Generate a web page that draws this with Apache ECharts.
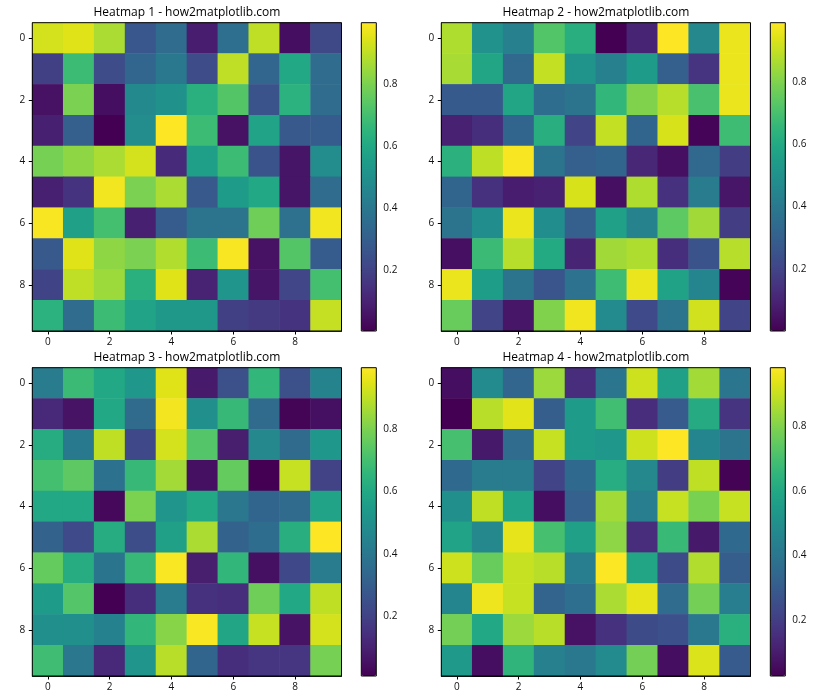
<!DOCTYPE html>
<html>
<head>
<meta charset="utf-8">
<script src="https://cdn.jsdelivr.net/npm/echarts@6/dist/echarts.min.js"></script>
<style>html,body{margin:0;padding:0;background:#fff}#c{width:840px;height:700px}</style>
</head>
<body>
<div id="c"></div>
<script>
const xCats = ['0','1','2','3','4','5','6','7','8','9'];
const yCats = ['0','1','2','3','4','5','6','7','8','9'];
const titles = ['Heatmap 1 - how2matplotlib.com','Heatmap 2 - how2matplotlib.com','Heatmap 3 - how2matplotlib.com','Heatmap 4 - how2matplotlib.com'];
const cbTicks = [0.2, 0.4, 0.6, 0.8];
const cbMin = [0.003, 0.001, 0.010, 0.026];
const cbMax = [0.998, 0.989, 0.996, 0.983];

const heat1 = [
  [0.93,0.95,0.87,0.27,0.35,0.08,0.36,0.90,0.04,0.22],
  [0.19,0.68,0.23,0.33,0.40,0.23,0.90,0.33,0.60,0.35],
  [0.05,0.80,0.04,0.47,0.50,0.63,0.73,0.26,0.64,0.35],
  [0.09,0.30,0.003,0.48,0.998,0.68,0.05,0.58,0.28,0.29],
  [0.79,0.83,0.87,0.93,0.12,0.56,0.68,0.26,0.06,0.48],
  [0.09,0.15,0.98,0.80,0.87,0.28,0.55,0.60,0.06,0.35],
  [0.99,0.57,0.70,0.09,0.29,0.38,0.38,0.78,0.37,0.98],
  [0.28,0.95,0.83,0.80,0.88,0.68,0.99,0.05,0.73,0.29],
  [0.20,0.90,0.85,0.63,0.95,0.10,0.52,0.06,0.21,0.70],
  [0.64,0.35,0.68,0.58,0.53,0.53,0.19,0.17,0.15,0.91]
];
const heat2 = [
  [0.87,0.50,0.43,0.72,0.62,0.001,0.10,0.989,0.46,0.96],
  [0.86,0.58,0.33,0.90,0.51,0.43,0.54,0.30,0.15,0.96],
  [0.28,0.28,0.58,0.35,0.38,0.65,0.80,0.88,0.70,0.96],
  [0.09,0.13,0.32,0.62,0.20,0.90,0.32,0.93,0.01,0.68],
  [0.63,0.89,0.98,0.38,0.30,0.32,0.11,0.04,0.33,0.18],
  [0.32,0.14,0.08,0.09,0.93,0.04,0.87,0.14,0.41,0.06],
  [0.38,0.48,0.96,0.48,0.30,0.56,0.44,0.74,0.85,0.18],
  [0.04,0.67,0.88,0.60,0.10,0.85,0.87,0.13,0.25,0.88],
  [0.96,0.55,0.38,0.26,0.37,0.68,0.96,0.57,0.45,0.01],
  [0.76,0.20,0.06,0.80,0.97,0.47,0.22,0.38,0.92,0.20]
];
const heat3 = [
  [0.42,0.68,0.60,0.53,0.95,0.08,0.25,0.66,0.25,0.45],
  [0.12,0.06,0.60,0.35,0.98,0.50,0.67,0.35,0.02,0.05],
  [0.62,0.41,0.90,0.22,0.93,0.73,0.09,0.47,0.35,0.53],
  [0.70,0.75,0.38,0.67,0.86,0.05,0.76,0.010,0.91,0.20],
  [0.60,0.60,0.03,0.80,0.52,0.60,0.40,0.33,0.35,0.58],
  [0.32,0.23,0.62,0.24,0.57,0.87,0.32,0.36,0.63,0.996],
  [0.76,0.62,0.39,0.67,0.99,0.09,0.66,0.05,0.22,0.42],
  [0.55,0.73,0.01,0.14,0.42,0.15,0.14,0.78,0.60,0.90],
  [0.50,0.50,0.44,0.66,0.82,0.99,0.59,0.91,0.06,0.93],
  [0.69,0.40,0.12,0.52,0.89,0.33,0.14,0.16,0.16,0.79]
];
const heat4 = [
  [0.06,0.48,0.34,0.84,0.15,0.40,0.91,0.57,0.85,0.40],
  [0.026,0.88,0.94,0.31,0.55,0.69,0.15,0.30,0.61,0.17],
  [0.70,0.09,0.36,0.90,0.55,0.53,0.91,0.983,0.46,0.39],
  [0.35,0.42,0.42,0.22,0.35,0.62,0.47,0.20,0.89,0.03],
  [0.50,0.89,0.58,0.06,0.32,0.85,0.43,0.90,0.79,0.90],
  [0.58,0.47,0.95,0.70,0.57,0.82,0.15,0.67,0.09,0.35],
  [0.91,0.76,0.90,0.88,0.43,0.98,0.59,0.24,0.87,0.31],
  [0.46,0.96,0.90,0.33,0.37,0.86,0.95,0.36,0.78,0.43],
  [0.78,0.60,0.84,0.88,0.07,0.16,0.24,0.26,0.41,0.63],
  [0.54,0.06,0.65,0.44,0.41,0.48,0.78,0.06,0.93,0.30]
];
const heats = [heat1, heat2, heat3, heat4];

const viridis = ['#440154','#471365','#482475','#463480','#414487','#3b528b','#355f8d','#2f6c8e','#2a788e','#25848e','#21918c','#1e9c89','#22a884','#2fb47c','#44bf70','#5ec962','#7ad151','#9bd93c','#bddf26','#dfe318','#fde725'];

const FONT = 'Open Sans';
const panels = [
  {left: 32.3, top: 22.7, cb: 361.3},
  {left: 441.3, top: 22.7, cb: 770.3},
  {left: 32.3, top: 367.7, cb: 361.3},
  {left: 441.3, top: 367.7, cb: 770.3}
];
const W = 309.2, H = 308.3, CBW = 15;

const grid = [], xAxis = [], yAxis = [], series = [], visualMap = [], graphic = [];
panels.forEach((p, i) => {
  grid.push({left: p.left, top: p.top, width: W, height: H, show: true, borderColor: '#000', borderWidth: 1, backgroundColor: 'transparent', z: 10});
  grid.push({left: p.cb, top: p.top, width: CBW, height: H, show: true, borderColor: '#000', borderWidth: 1, backgroundColor: 'transparent', z: 10});
  const g = i * 2;
  xAxis.push({
    type: 'category', data: xCats, gridIndex: g, position: 'bottom',
    axisLine: {show: true, lineStyle: {color: '#000', width: 1}},
    axisTick: {show: true, alignWithLabel: true, interval: 1, length: 3.5, lineStyle: {color: '#000'}},
    axisLabel: {interval: 1, margin: 6.5, color: '#111', fontFamily: FONT, fontSize: 10},
    splitLine: {show: false}
  });
  yAxis.push({
    type: 'category', data: yCats, gridIndex: g, inverse: true, position: 'left',
    axisLine: {show: true, lineStyle: {color: '#000', width: 1}},
    axisTick: {show: true, alignWithLabel: true, interval: 1, length: 3.5, lineStyle: {color: '#000'}},
    axisLabel: {interval: 1, margin: 7, color: '#111', fontFamily: FONT, fontSize: 10},
    splitLine: {show: false}
  });
  xAxis.push({type: 'value', gridIndex: g + 1, show: false, min: 0, max: 1});
  yAxis.push({
    type: 'value', gridIndex: g + 1, position: 'right', min: cbMin[i], max: cbMax[i],
    axisLine: {show: false},
    axisTick: {show: true, length: 3.5, inside: false, customValues: cbTicks, lineStyle: {color: '#000'}},
    axisLabel: {margin: 7, color: '#111', fontFamily: FONT, fontSize: 10, customValues: cbTicks, formatter: v => String(+v.toFixed(1))},
    splitLine: {show: false}
  });
  const data = [];
  heats[i].forEach((row, r) => row.forEach((v, c) => data.push([c, r, v])));
  series.push({
    type: 'heatmap', xAxisIndex: g, yAxisIndex: g, data: data,
    emphasis: {disabled: true}, progressive: 0, silent: true
  });
  visualMap.push({
    type: 'continuous', seriesIndex: series.length - 1, min: cbMin[i], max: cbMax[i],
    calculable: false, orient: 'vertical', left: p.cb, top: p.top, itemWidth: CBW, itemHeight: H,
    padding: 0, showLabel: false, text: null, hoverLink: false,
    inRange: {color: viridis}
  });
  graphic.push({
    type: 'text', x: p.left + W / 2, y: p.top - 16.5,
    style: {text: titles[i], fill: '#000', font: '12px "Open Sans"', textAlign: 'center'}
  });
});

const chart = echarts.init(document.getElementById('c'), null, {renderer: 'canvas'});
chart.setOption({
  animation: false,
  backgroundColor: '#fff',
  grid, xAxis, yAxis, series, visualMap, graphic
});
</script>
</body>
</html>
